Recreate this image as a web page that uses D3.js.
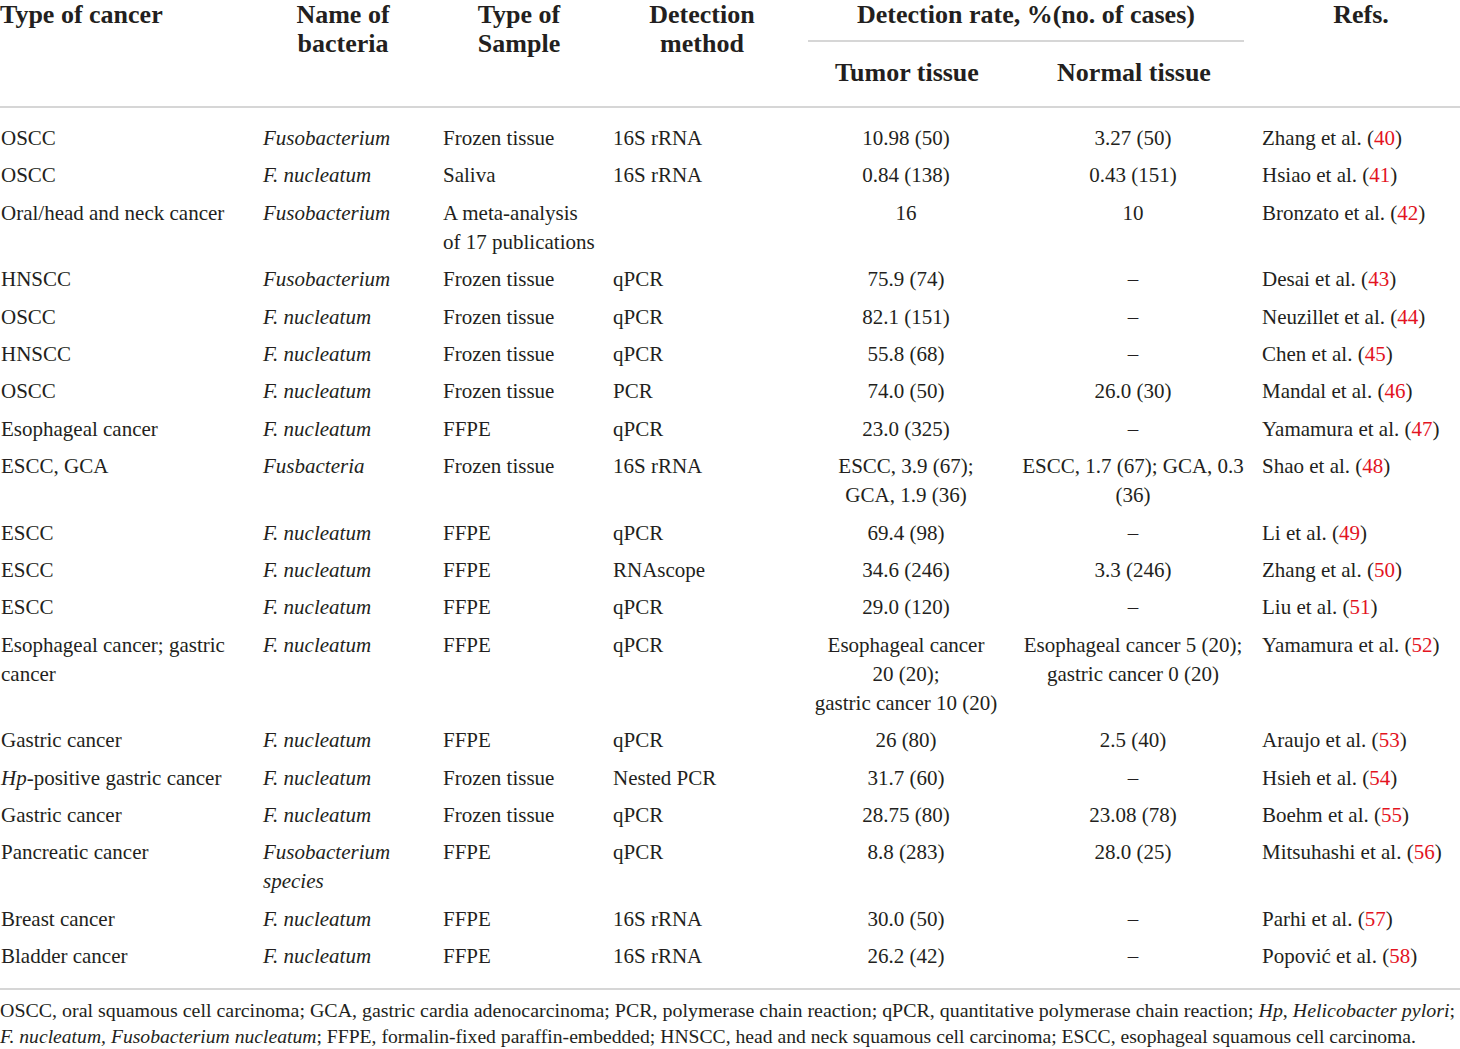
<!DOCTYPE html>
<html>
<head>
<meta charset="utf-8">
<script src="https://cdn.jsdelivr.net/npm/d3@7"></script>
<style>
  html, body { margin: 0; padding: 0; background: #fff; }
  svg { display: block; }
</style>
</head>
<body>
<svg id="chart" width="1460" height="1049"></svg>
<script>
// ---- Data (one entry per table row) ----
const cancerTypes = [
  "OSCC", "OSCC", "Oral/head and neck cancer", "HNSCC", "OSCC", "HNSCC", "OSCC",
  "Esophageal cancer", "ESCC, GCA", "ESCC", "ESCC", "ESCC",
  "Esophageal cancer; gastric\ncancer", "Gastric cancer", "*Hp*-positive gastric cancer",
  "Gastric cancer", "Pancreatic cancer", "Breast cancer", "Bladder cancer"
];
const bacteria = [
  "Fusobacterium", "F. nucleatum", "Fusobacterium", "Fusobacterium", "F. nucleatum",
  "F. nucleatum", "F. nucleatum", "F. nucleatum", "Fusbacteria", "F. nucleatum",
  "F. nucleatum", "F. nucleatum", "F. nucleatum", "F. nucleatum", "F. nucleatum",
  "F. nucleatum", "Fusobacterium\nspecies", "F. nucleatum", "F. nucleatum"
];
const sampleTypes = [
  "Frozen tissue", "Saliva", "A meta-analysis\nof 17 publications", "Frozen tissue",
  "Frozen tissue", "Frozen tissue", "Frozen tissue", "FFPE", "Frozen tissue", "FFPE",
  "FFPE", "FFPE", "FFPE", "FFPE", "Frozen tissue", "Frozen tissue", "FFPE", "FFPE", "FFPE"
];
const methods = [
  "16S rRNA", "16S rRNA", "", "qPCR", "qPCR", "qPCR", "PCR", "qPCR", "16S rRNA",
  "qPCR", "RNAscope", "qPCR", "qPCR", "qPCR", "Nested PCR", "qPCR", "qPCR",
  "16S rRNA", "16S rRNA"
];
const tumorRates = [
  "10.98 (50)", "0.84 (138)", "16", "75.9 (74)", "82.1 (151)", "55.8 (68)", "74.0 (50)",
  "23.0 (325)", "ESCC, 3.9 (67);\nGCA, 1.9 (36)", "69.4 (98)", "34.6 (246)", "29.0 (120)",
  "Esophageal cancer\n20 (20);\ngastric cancer 10 (20)", "26 (80)", "31.7 (60)",
  "28.75 (80)", "8.8 (283)", "30.0 (50)", "26.2 (42)"
];
const normalRates = [
  "3.27 (50)", "0.43 (151)", "10", "–", "–", "–", "26.0 (30)", "–",
  "ESCC, 1.7 (67); GCA, 0.3\n(36)", "–", "3.3 (246)", "–",
  "Esophageal cancer 5 (20);\ngastric cancer 0 (20)", "2.5 (40)", "–", "23.08 (78)",
  "28.0 (25)", "–", "–"
];
const refAuthors = [
  "Zhang et al.", "Hsiao et al.", "Bronzato et al.", "Desai et al.", "Neuzillet et al.",
  "Chen et al.", "Mandal et al.", "Yamamura et al.", "Shao et al.", "Li et al.",
  "Zhang et al.", "Liu et al.", "Yamamura et al.", "Araujo et al.", "Hsieh et al.",
  "Boehm et al.", "Mitsuhashi et al.", "Parhi et al.", "Popović et al."
];
const refNumbers = [40, 41, 42, 43, 44, 45, 46, 47, 48, 49, 50, 51, 52, 53, 54, 55, 56, 57, 58];

const headerLabels = [
  "Type of cancer", "Name of\nbacteria", "Type of\nSample", "Detection\nmethod",
  "Tumor tissue", "Normal tissue", "Refs."
];
const groupHeader = "Detection rate, %(no. of cases)";
const footnoteLines = [
  "OSCC, oral squamous cell carcinoma; GCA, gastric cardia adenocarcinoma; PCR, polymerase chain reaction; qPCR, quantitative polymerase chain reaction; *Hp*, *Helicobacter pylori*;",
  "*F. nucleatum, Fusobacterium nucleatum*; FFPE, formalin-fixed paraffin-embedded; HNSCC, head and neck squamous cell carcinoma; ESCC, esophageal squamous cell carcinoma."
];

// ---- Layout ----
const W = 1460;
const TEXT = "#231f20", RED = "#e3141f", RULE = "#c9c9c9";
const FONT = "'Liberation Serif', 'Times New Roman', serif";
const bodySize = 21, headSize = 26;

const svg = d3.select("#chart").style("font-family", FONT);

const colKeys = ["cancer", "bacteria", "sample", "method", "tumor", "normal", "ref"];
const colX = d3.scaleOrdinal().domain(colKeys).range([1, 263, 443, 613, 906, 1133, 1262]);
const colAnchor = d3.scaleOrdinal().domain(colKeys).range(["start", "start", "start", "start", "middle", "middle", "start"]);
const headX = d3.scaleOrdinal().domain(colKeys).range([0, 343, 519, 702, 907, 1134, 1361]);
const headAnchor = d3.scaleOrdinal().domain(colKeys).range(["start", "middle", "middle", "middle", "middle", "middle", "middle"]);

const rows = cancerTypes.map((c, i) => ({
  cancer: c, bacteria: bacteria[i], sample: sampleTypes[i], method: methods[i],
  tumor: tumorRates[i], normal: normalRates[i], refA: refAuthors[i], refN: refNumbers[i]
}));
rows.forEach(r => {
  r.lines = d3.max(["cancer", "bacteria", "sample", "method", "tumor", "normal"], k => r[k].split("\n").length);
});

// vertical scale in "units": row step and extra line step
const rowStep = 37.4, lineStep = 29;
let acc = 0;
rows.forEach(r => { r.offset = acc; acc += rowStep + (r.lines - 1) * lineStep; });
const yScale = d3.scaleLinear().domain([0, 1]).range([138, 139]); // 1px per unit, first row center at 138

// Rules
svg.append("line").attr("x1", 808).attr("x2", 1244).attr("y1", 41).attr("y2", 41)
  .attr("stroke", RULE).attr("stroke-width", 1.5);
svg.append("line").attr("x1", 0).attr("x2", W).attr("y1", 107).attr("y2", 107)
  .attr("stroke", RULE).attr("stroke-width", 1.5);
svg.append("line").attr("x1", 0).attr("x2", W).attr("y1", 989).attr("y2", 989)
  .attr("stroke", RULE).attr("stroke-width", 1.5);

// helper: add segments with *italic* markup to a text/tspan parent
function addRich(sel, str, forceItalic) {
  const parts = str.split("*");
  parts.forEach((p, j) => {
    if (!p) return;
    sel.append("tspan").text(p)
      .attr("font-style", (forceItalic || j % 2 === 1) ? "italic" : "normal");
  });
}

// Header
const head = svg.append("g").attr("font-weight", "bold").attr("font-size", headSize).attr("fill", TEXT);
headerLabels.forEach((lab, i) => {
  const k = colKeys[i];
  const lines = lab.split("\n");
  const baseY = (k === "tumor" || k === "normal") ? 81 : 23;
  lines.forEach((ln, j) => {
    head.append("text")
      .attr("x", headX(k)).attr("y", baseY + j * 29)
      .attr("text-anchor", headAnchor(k)).text(ln);
  });
});
head.append("text").attr("x", 1026).attr("y", 23).attr("text-anchor", "middle").text(groupHeader);

// Body
const body = svg.append("g").attr("font-size", bodySize).attr("fill", TEXT);
const rowG = body.selectAll("g.row").data(rows).join("g").attr("class", "row")
  .attr("transform", d => `translate(0,${yScale(d.offset) + 7})`);

["cancer", "bacteria", "sample", "method", "tumor", "normal"].forEach(k => {
  rowG.each(function (d) {
    const g = d3.select(this);
    d[k].split("\n").forEach((ln, j) => {
      if (!ln) return;
      const t = g.append("text").attr("x", colX(k)).attr("y", j * lineStep)
        .attr("text-anchor", colAnchor(k));
      addRich(t, ln, k === "bacteria");
    });
  });
});
rowG.each(function (d) {
  const t = d3.select(this).append("text").attr("x", colX("ref")).attr("y", 0);
  t.append("tspan").text(d.refA + " (");
  t.append("tspan").attr("fill", RED).text(d.refN);
  t.append("tspan").text(")");
});

// Footnote
const foot = svg.append("g").attr("font-size", 18).attr("fill", TEXT);
const footWidths = [1455, 1416];
footnoteLines.forEach((ln, i) => {
  const t = foot.append("text").attr("x", 0).attr("y", 1017 + i * 26)
    .attr("textLength", footWidths[i]).attr("lengthAdjust", "spacingAndGlyphs");
  addRich(t, ln, false);
});
</script>
</body>
</html>
